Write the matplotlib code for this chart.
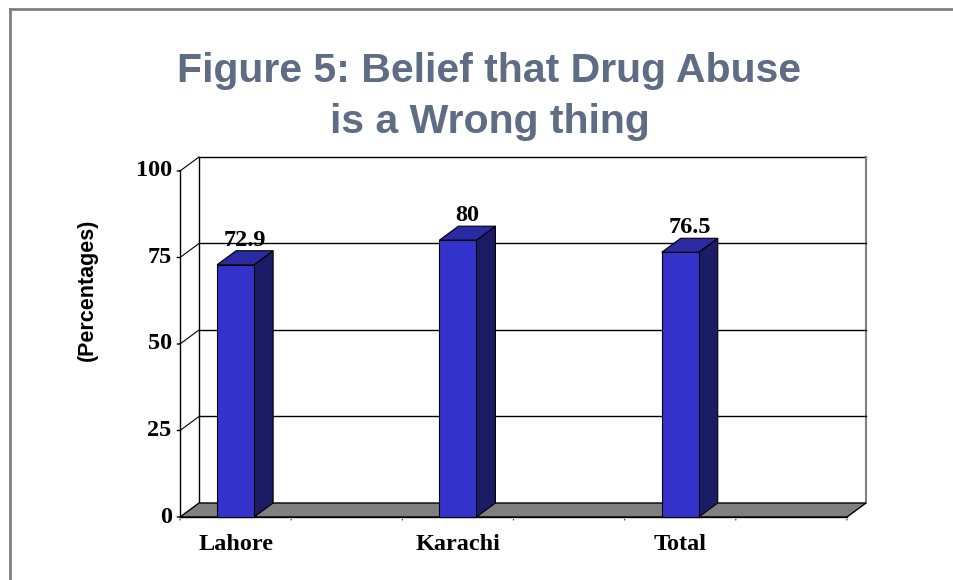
import matplotlib.pyplot as plt
from matplotlib.patches import Polygon, Rectangle
from matplotlib.lines import Line2D

categories = ["Lahore", "", "Karachi", "", "Total", ""]
values = [72.9, None, 80, None, 76.5, None]
value_labels = ["72.9", "", "80", "", "76.5", ""]
y_ticks = [0, 25, 50, 75, 100]
title_lines = ["Figure 5: Belief that Drug Abuse", "is a Wrong thing"]

fig = plt.figure(figsize=(9.54, 5.8), dpi=100)

# outer frame (top and left edges visible)
fig.add_artist(Line2D([0.010, 1.0], [0.984, 0.984], color="#808080", lw=2,
                      transform=fig.transFigure))
fig.add_artist(Line2D([0.010, 0.010], [0.0, 0.984], color="#808080", lw=2,
                      transform=fig.transFigure))

for line, yb in zip(title_lines, [0.8586, 0.7707]):
    fig.text(0.513, yb, line, ha="center", va="baseline", fontsize=29.5,
             fontweight="bold", family="Liberation Sans", color="#5E6C84")

ax = fig.add_axes([0.1887, 0.1086, 0.6991, 0.5966])
n = len(categories)
ax.set_xlim(0, n)
ax.set_ylim(0, 100)
ax.axis("off")

# depth offsets in data units
dx, dy = 0.171, 4.05

# back wall
ax.add_patch(Rectangle((dx, dy), n, 100, facecolor="white", edgecolor="none",
                       clip_on=False, zorder=0))
ax.plot([dx, dx, n + dx], [dy, 100 + dy, 100 + dy], color="black", lw=1,
        clip_on=False, zorder=1)
ax.plot([n + dx, n + dx], [dy, 100 + dy], color="#808080", lw=1.5,
        clip_on=False, zorder=1)

# gridlines on back wall and diagonals on side wall
for t in y_ticks:
    if 0 < t < 100:
        ax.plot([dx, n + dx], [t + dy, t + dy], color="black", lw=1,
                clip_on=False, zorder=1)
    if t > 0:
        ax.plot([0, dx], [t, t + dy], color="black", lw=0.8,
                clip_on=False, zorder=1)

# floor
ax.add_patch(Polygon([(0, 0), (n, 0), (n + dx, dy), (dx, dy)],
                     closed=True, facecolor="#808080", edgecolor="black",
                     lw=1, clip_on=False, zorder=2))

# front axes lines and ticks
ax.plot([0, 0], [0, 100], color="black", lw=1, clip_on=False, zorder=5)
ax.plot([0, n], [0, 0], color="black", lw=1, clip_on=False, zorder=5)
for t in y_ticks:
    ax.annotate("", xy=(0, t), xytext=(-4, 0), textcoords="offset points",
                arrowprops=dict(arrowstyle="-", lw=1, color="black"))
    ax.annotate(str(t), xy=(0, t), xytext=(-6, 0), textcoords="offset points",
                ha="right", va="center", fontsize=17.5, fontweight="bold",
                family="Liberation Serif")
for i in range(n + 1):
    ax.annotate("", xy=(i, 0), xytext=(0, -4), textcoords="offset points",
                arrowprops=dict(arrowstyle="-", lw=1, color="black"))

# bars
w = 1 / 3
for i, (cat, v, lab) in enumerate(zip(categories, values, value_labels)):
    if cat:
        ax.annotate(cat, xy=(i + 0.5, 0), xytext=(0, -20),
                    textcoords="offset points", ha="center", va="center",
                    fontsize=17.5, fontweight="bold", family="Liberation Serif")
    if v is None:
        continue
    x0, x1 = i + 0.5 - w / 2, i + 0.5 + w / 2
    ax.add_patch(Polygon([(x1, 0), (x1 + dx, dy), (x1 + dx, v + dy), (x1, v)],
                         closed=True, facecolor="#1C1C66", edgecolor="black",
                         lw=0.8, clip_on=False, zorder=6))
    ax.add_patch(Polygon([(x0, v), (x0 + dx, v + dy), (x1 + dx, v + dy), (x1, v)],
                         closed=True, facecolor="#2A2AA3", edgecolor="black",
                         lw=0.8, clip_on=False, zorder=6))
    ax.add_patch(Rectangle((x0, 0), w, v, facecolor="#3333CC",
                           edgecolor="black", lw=0.8, clip_on=False, zorder=7))
    ax.annotate(lab, xy=(i + 0.5 + dx / 2, v + dy), xytext=(0, 0),
                textcoords="offset points", ha="center", va="bottom",
                fontsize=17.5, fontweight="bold", family="Liberation Serif",
                zorder=8)

fig.text(0.092, 0.5, "(Percentages)", rotation=90, ha="center", va="center",
         fontsize=15.5, fontweight="bold", family="Liberation Sans")

fig.savefig("out.png", dpi=100)
